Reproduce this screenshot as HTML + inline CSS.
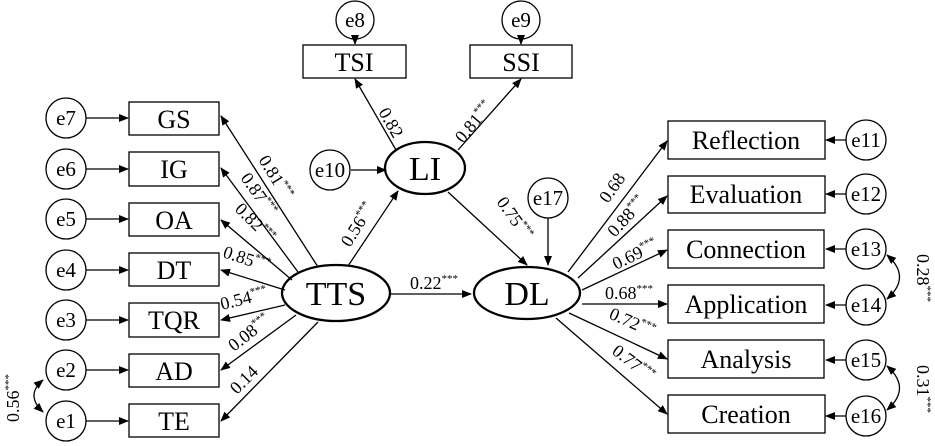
<!DOCTYPE html>
<html><head><style>body{margin:0;background:#fff}svg{display:block}svg text{font-family:"Liberation Serif","Times New Roman",serif;fill:#000}</style></head><body>
<svg width="935" height="446" viewBox="0 0 935 446" xmlns="http://www.w3.org/2000/svg" font-family="Liberation Serif, serif">
<defs><marker id="a" markerWidth="10" markerHeight="8" refX="9" refY="4" orient="auto-start-reverse" markerUnits="userSpaceOnUse"><path d="M0,0 L10,4 L0,8 z" fill="#000"/></marker></defs>
<g stroke="#000" stroke-width="1.3" fill="none">
<circle cx="66" cy="118" r="20"/><circle cx="66" cy="169" r="20"/><circle cx="66" cy="219" r="20"/><circle cx="66" cy="270" r="20"/><circle cx="66" cy="320" r="20"/><circle cx="66" cy="370" r="20"/><circle cx="66" cy="421" r="20"/>
<rect x="129" y="102" width="90" height="33"/><rect x="129" y="152" width="90" height="34"/><rect x="129" y="203" width="90" height="33"/><rect x="129" y="253" width="90" height="33"/><rect x="129" y="303" width="90" height="34"/><rect x="129" y="354" width="90" height="33"/><rect x="129" y="404" width="90" height="33"/>
<g marker-end="url(#a)">
<line x1="86" y1="118" x2="128" y2="118"/><line x1="86" y1="169" x2="128" y2="169"/><line x1="86" y1="219" x2="128" y2="219"/><line x1="86" y1="270" x2="128" y2="270"/><line x1="86" y1="320" x2="128" y2="320"/><line x1="86" y1="370" x2="128" y2="370"/><line x1="86" y1="421" x2="128" y2="421"/>
<line x1="318" y1="267" x2="221" y2="116"/><line x1="298" y1="272" x2="221" y2="168"/><line x1="292" y1="280" x2="221" y2="220"/><line x1="285" y1="290" x2="221" y2="270"/><line x1="285" y1="305" x2="221" y2="320"/><line x1="296" y1="315" x2="221" y2="370"/><line x1="318" y1="322" x2="221" y2="421"/>
<line x1="348" y1="266" x2="398" y2="191"/><line x1="390" y1="294" x2="471" y2="294"/>
<line x1="396" y1="150" x2="355" y2="79"/><line x1="458" y1="150" x2="521" y2="79"/><line x1="448" y1="192" x2="527" y2="265"/>
<line x1="548" y1="218" x2="548" y2="265"/><line x1="355" y1="40" x2="355" y2="44"/><line x1="521" y1="40" x2="521" y2="44"/>
<line x1="351" y1="170" x2="386" y2="170"/>
<line x1="568" y1="272" x2="667" y2="141"/><line x1="578" y1="278" x2="667" y2="196"/><line x1="582" y1="290" x2="667" y2="250"/><line x1="582" y1="304" x2="667" y2="304"/><line x1="569" y1="313" x2="667" y2="359"/><line x1="556" y1="318" x2="667" y2="414"/>
<line x1="846" y1="140" x2="826" y2="140"/><line x1="846" y1="194" x2="826" y2="194"/><line x1="846" y1="249" x2="826" y2="249"/><line x1="846" y1="305" x2="826" y2="305"/><line x1="846" y1="360" x2="826" y2="360"/><line x1="846" y1="416" x2="826" y2="416"/>
</g>
<path d="M43,380 Q25,395 43,412" marker-start="url(#a)" marker-end="url(#a)"/>
<path d="M887,255 Q912,277 887,299" marker-start="url(#a)" marker-end="url(#a)"/>
<path d="M887,366 Q912,388 887,410" marker-start="url(#a)" marker-end="url(#a)"/>
<circle cx="355" cy="20" r="19"/><circle cx="521" cy="20" r="19"/><circle cx="330" cy="170" r="20"/><circle cx="548" cy="198" r="20"/>
<rect x="303" y="45" width="103" height="33"/><rect x="470" y="45" width="102" height="33"/>
<rect x="668" y="121" width="157" height="38"/><rect x="668" y="176" width="157" height="37"/><rect x="668" y="230" width="156" height="38"/><rect x="668" y="285" width="156" height="38"/><rect x="668" y="340" width="156" height="38"/><rect x="668" y="395" width="157" height="38"/>
<circle cx="866" cy="140" r="20"/><circle cx="866" cy="194" r="20"/><circle cx="866" cy="249" r="20"/><circle cx="866" cy="305" r="20"/><circle cx="866" cy="360" r="20"/><circle cx="866" cy="416" r="20"/>
<g stroke-width="2.3"><ellipse cx="336" cy="293" rx="54" ry="28"/><ellipse cx="425" cy="168" rx="40" ry="26"/><ellipse cx="527" cy="293" rx="53" ry="26"/></g>
</g>
<g font-size="21" text-anchor="middle">
<text x="66" y="125">e7</text><text x="66" y="176">e6</text><text x="66" y="226">e5</text><text x="66" y="277">e4</text><text x="66" y="327">e3</text><text x="66" y="377">e2</text><text x="66" y="428">e1</text>
<text x="355" y="27">e8</text><text x="521" y="27">e9</text><text x="330" y="177">e10</text><text x="548" y="205">e17</text>
<text x="866" y="147">e11</text><text x="866" y="201">e12</text><text x="866" y="256">e13</text><text x="866" y="312">e14</text><text x="866" y="367">e15</text><text x="866" y="423">e16</text>
</g>
<g font-size="26" text-anchor="middle">
<text x="174" y="128">GS</text><text x="174" y="178">IG</text><text x="174" y="229">OA</text><text x="174" y="279">DT</text><text x="174" y="329">TQR</text><text x="174" y="380">AD</text><text x="174" y="430">TE</text>
<text x="354" y="71">TSI</text><text x="521" y="71">SSI</text>
<text x="746" y="149">Reflection</text><text x="746" y="203">Evaluation</text><text x="746" y="258">Connection</text><text x="746" y="313">Application</text><text x="746" y="368">Analysis</text><text x="746" y="423">Creation</text>
</g>
<g font-size="34" text-anchor="middle"><text x="336" y="305">TTS</text><text x="425" y="180">LI</text><text x="527" y="305">DL</text></g>
<g font-size="18">
<text transform="translate(258,160) rotate(58)">0.81<tspan font-size="11" dy="-7">***</tspan></text>
<text transform="translate(240,178) rotate(55)">0.87<tspan font-size="11" dy="-7">***</tspan></text>
<text transform="translate(234,210) rotate(45)">0.82<tspan font-size="11" dy="-7">***</tspan></text>
<text transform="translate(222,257) rotate(18)">0.85<tspan font-size="11" dy="-7">***</tspan></text>
<text transform="translate(222,310) rotate(-14)">0.54<tspan font-size="11" dy="-7">***</tspan></text>
<text transform="translate(234,352) rotate(-38)">0.08<tspan font-size="11" dy="-7">***</tspan></text>
<text transform="translate(237,395) rotate(-45)">0.14</text>
<text transform="translate(350,248) rotate(-58)">0.56<tspan font-size="11" dy="-7">***</tspan></text>
<text x="410" y="289">0.22<tspan font-size="11" dy="-7">***</tspan></text>
<text transform="translate(378,112) rotate(60)">0.82</text>
<text transform="translate(463,144) rotate(-50)">0.81<tspan font-size="11" dy="-7">***</tspan></text>
<text transform="translate(496,202) rotate(55)">0.75<tspan font-size="11" dy="-7">***</tspan></text>
<text transform="translate(608,204) rotate(-55)">0.68</text>
<text transform="translate(615,238) rotate(-48)">0.88<tspan font-size="11" dy="-7">***</tspan></text>
<text transform="translate(616,270) rotate(-26)">0.69<tspan font-size="11" dy="-7">***</tspan></text>
<text x="605" y="299">0.68<tspan font-size="11" dy="-7">***</tspan></text>
<text transform="translate(608,318) rotate(24)">0.72<tspan font-size="11" dy="-7">***</tspan></text>
<text transform="translate(611,353) rotate(38)">0.77<tspan font-size="11" dy="-7">***</tspan></text>
<text transform="translate(19,422) rotate(-90)">0.56<tspan font-size="11" dy="-7">***</tspan></text>
<text transform="translate(917,254) rotate(90)">0.28<tspan font-size="11" dy="-7">***</tspan></text>
<text transform="translate(917,365) rotate(90)">0.31<tspan font-size="11" dy="-7">***</tspan></text>
</g>
</svg>
</body></html>
